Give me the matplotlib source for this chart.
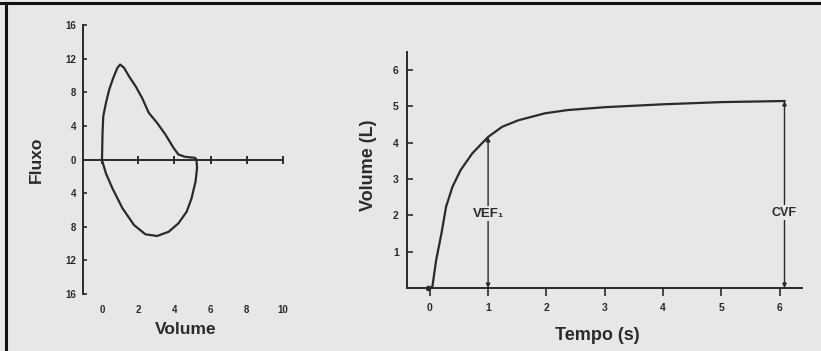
import matplotlib
matplotlib.use('Agg')
import matplotlib.pyplot as plt
from matplotlib.lines import Line2D

plt.rcParams['font.family'] = ['Liberation Sans', 'DejaVu Sans']

# flow-volume loop (Volume, Fluxo)
loop_vol = [0.0, 0.03, 0.07, 0.22, 0.40, 0.62, 0.85, 1.0, 1.22, 1.49, 1.86, 2.22,
            2.58, 3.04, 3.5, 3.95, 4.22, 4.59, 5.14, 5.22, 5.25, 5.17, 4.95, 4.68,
            4.22, 3.68, 3.04, 2.4, 1.77, 1.13, 0.58, 0.22, 0.03, 0.0]
loop_flux = [0.0, 3.2, 5.15, 6.75, 8.33, 9.7, 10.9, 11.3, 10.9, 9.9, 8.7, 7.3,
             5.56, 4.37, 2.98, 1.39, 0.6, 0.32, 0.2, 0.0, -1.0, -2.6, -4.6, -6.2,
             -7.6, -8.6, -9.1, -8.9, -7.8, -5.8, -3.45, -1.67, -0.3, 0.0]
flux_ticks = [-16, -12, -8, -4, 0, 4, 8, 12, 16]
flux_labels = ['16', '12', '8', '4', '0', '4', '8', '12', '16']
vol_ticks = [0, 2, 4, 6, 8, 10]

# volume-time curve
tempo = [0.0, 0.045, 0.11, 0.2, 0.28, 0.39, 0.53, 0.73, 1.0, 1.24, 1.52, 1.97,
         2.36, 3.0, 4.0, 5.0, 6.08]
volume = [0.0, 0.04, 0.77, 1.5, 2.24, 2.79, 3.25, 3.71, 4.16, 4.44, 4.62, 4.81,
          4.9, 4.98, 5.06, 5.12, 5.15]
tempo_ticks = [0, 1, 2, 3, 4, 5, 6]
vol_l_ticks = [1, 2, 3, 4, 5, 6]
vef1_t, vef1_v = 1.0, 4.16
cvf_t, cvf_v = 6.08, 5.15

bg = '#e7e7e7'
ink = '#2a2a2a'
W, H = 821, 351
fig = plt.figure(figsize=(W / 100, H / 100), dpi=100, facecolor=bg)

def box(l, t, r, b):
    return [l / W, 1 - b / H, (r - l) / W, (b - t) / H]

# --- left: flow-volume loop ---
ax1 = fig.add_axes(box(83, 25, 283, 294))
ax1.set_facecolor('none')
ax1.set_xlim(-1.05, 10)
ax1.set_ylim(-16, 16)
for s in ['top', 'right', 'bottom']:
    ax1.spines[s].set_visible(False)
ax1.spines['left'].set_color(ink)
ax1.spines['left'].set_linewidth(1.4)
ax1.set_yticks(flux_ticks)
ax1.set_yticklabels(flux_labels)
ax1.tick_params(axis='y', direction='in', length=3, width=1.2, color=ink, pad=5,
                labelsize=7, labelcolor=ink)
ax1.set_xticks(vol_ticks)
ax1.tick_params(axis='x', length=0, pad=8, labelsize=7, labelcolor=ink)
for lab in ax1.get_xticklabels() + ax1.get_yticklabels():
    lab.set_fontweight('bold')
ax1.plot([-1.05, 10], [0, 0], color=ink, lw=1.4, clip_on=False)
ax1.plot(vol_ticks, [0] * len(vol_ticks), ls='none', marker='|', ms=6, mew=1.4,
         color=ink, clip_on=False)
ax1.plot(loop_vol, loop_flux, color=ink, lw=1.6, solid_joinstyle='round')

fig.text(36 / W, 1 - 160 / H, 'Fluxo', rotation=90, ha='center', va='center',
         fontsize=12.5, fontweight='bold', color=ink)
fig.text(186 / W, 1 - 330 / H, 'Volume', ha='center', va='center',
         fontsize=12.5, fontweight='bold', color=ink)

# --- right: volume-time curve ---
ax2 = fig.add_axes(box(407, 52, 802, 288))
ax2.set_facecolor('none')
ax2.set_xlim(-0.39, 6.38)
ax2.set_ylim(0, 6.5)
for s in ['top', 'right']:
    ax2.spines[s].set_visible(False)
for s in ['left', 'bottom']:
    ax2.spines[s].set_color(ink)
    ax2.spines[s].set_linewidth(1.4)
ax2.set_xticks(tempo_ticks)
ax2.set_yticks(vol_l_ticks)
ax2.tick_params(axis='x', direction='out', length=6, width=1.2, color=ink, pad=5,
                labelsize=7.5, labelcolor=ink)
ax2.tick_params(axis='y', direction='in', length=4, width=1.2, color=ink, pad=6,
                labelsize=7.5, labelcolor=ink)
for lab in ax2.get_xticklabels() + ax2.get_yticklabels():
    lab.set_fontweight('bold')
ax2.plot(tempo, volume, color=ink, lw=1.6, solid_joinstyle='round')
ax2.plot([-0.03], [0], 'o', ms=3, color=ink, clip_on=False)

arrow = dict(arrowstyle='<|-|>', color=ink, lw=1.0, mutation_scale=6,
             shrinkA=0, shrinkB=0)
ax2.annotate('', xy=(vef1_t, vef1_v), xytext=(vef1_t, 0), arrowprops=arrow)
ax2.annotate('', xy=(cvf_t, cvf_v), xytext=(cvf_t, 0), arrowprops=arrow)
lbl = dict(facecolor=bg, edgecolor='none', pad=1)
ax2.text(vef1_t, 2.05, 'VEF\u2081', ha='center', va='center', fontsize=9.5,
         fontweight='bold', color=ink, bbox=lbl)
ax2.text(cvf_t, 2.07, 'CVF', ha='center', va='center', fontsize=9,
         fontweight='bold', color=ink, bbox=lbl)

fig.text(368 / W, 1 - 165 / H, 'Volume (L)', rotation=90, ha='center', va='center',
         fontsize=13, fontweight='bold', color=ink)
fig.text(597 / W, 1 - 335 / H, 'Tempo (s)', ha='center', va='center',
         fontsize=13, fontweight='bold', color=ink)

# frame (top and left edges of the scanned figure)
fig.add_artist(Line2D([0, 1], [1 - 3 / H, 1 - 3 / H], transform=fig.transFigure,
                      color='#111111', lw=2.2))
fig.add_artist(Line2D([5.5 / W, 5.5 / W], [0, 1 - 3 / H], transform=fig.transFigure,
                      color='#111111', lw=2.2))

fig.savefig('out.png', dpi=100, facecolor=bg)
